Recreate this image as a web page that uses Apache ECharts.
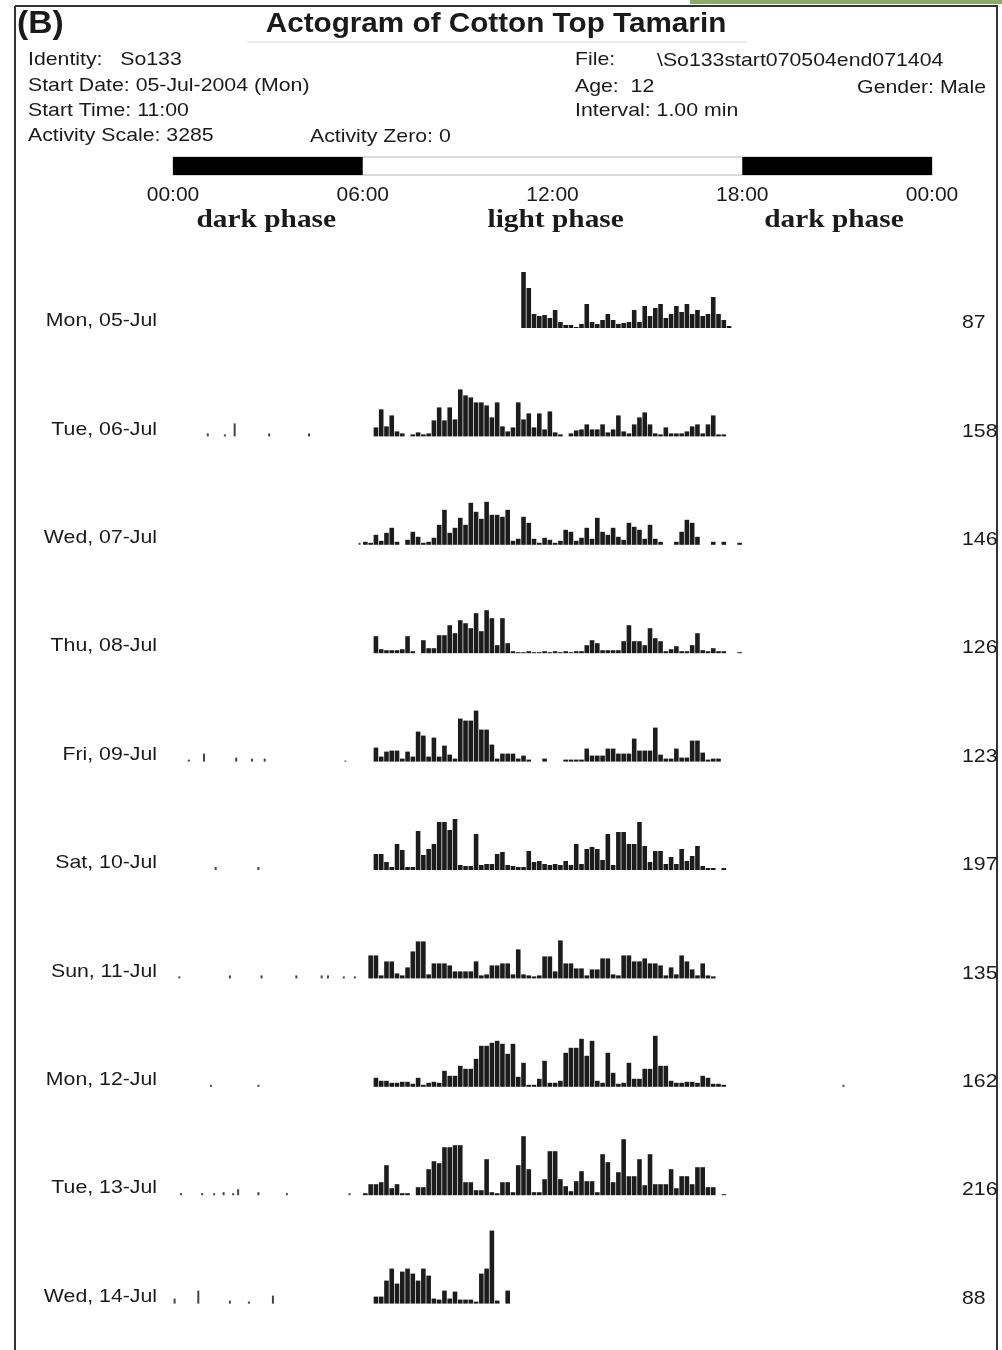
<!DOCTYPE html>
<html><head><meta charset="utf-8">
<script src="https://cdn.jsdelivr.net/npm/echarts@6/dist/echarts.min.js"></script>
<style>html,body{margin:0;padding:0;background:#fff}#c{width:1002px;height:1350px}</style>
</head><body><div id="c"></div>
<script>
// ---- data ----
const days = ['Mon, 05-Jul','Tue, 06-Jul','Wed, 07-Jul','Thu, 08-Jul','Fri, 09-Jul','Sat, 10-Jul','Sun, 11-Jul','Mon, 12-Jul','Tue, 13-Jul','Wed, 14-Jul'];
const totals = [87,158,146,126,123,197,135,162,216,88];
// hour at which each day's 10-minute activity bins begin
const dayStart = [11,6,6,6,6,6,6,6,6,6];
// activity per 10-minute bin (relative counts)
const act0 = [56,40,14,12,13,10,18,6,3,3,1,4,24,6,4,8,14,8,4,5,6,18,6,22,12,20,24,10,14,22,16,24,14,18,12,14,31,14,8,2];
const act1 = [0,0,9,27,10,21,5,3,0,2,4,2,3,16,29,16,29,17,47,41,39,34,34,31,19,34,10,5,9,34,17,23,9,23,7,25,4,2,0,3,6,7,12,7,7,12,4,7,21,5,3,12,19,24,12,3,2,9,3,3,3,5,10,12,3,12,21,2,2];
const act2 = [3,2,10,4,12,17,3,0,5,13,8,2,3,7,20,35,12,17,27,20,42,33,26,43,30,30,28,35,4,6,28,22,6,2,7,5,2,4,15,13,4,7,17,6,27,13,10,17,8,5,22,18,15,6,20,6,3,0,0,3,13,25,22,8,0,0,3,0,3,0,0,2];
const act3 = [0,0,17,4,3,3,3,4,17,2,0,13,5,5,18,18,28,20,33,30,25,40,22,43,35,8,35,10,2,1,1,2,1,1,2,1,2,1,2,1,2,2,8,13,10,3,3,3,3,12,28,12,12,8,25,15,12,2,4,7,2,2,8,20,3,2,5,2,2,0,0,1];
const act4 = [0,0,14,5,10,11,11,3,10,5,30,26,5,24,5,16,7,3,43,41,41,51,32,32,17,3,8,8,8,3,6,2,0,0,3,0,0,0,2,2,2,2,13,6,6,6,13,13,8,8,8,23,11,11,11,34,7,3,3,13,4,4,21,21,9,2,3,3];
const act5 = [0,0,16,16,8,3,26,20,3,3,39,15,21,26,48,48,40,51,5,4,4,36,5,6,6,16,18,5,4,3,3,19,8,9,6,5,6,5,9,5,26,6,21,23,21,10,36,5,38,38,26,26,48,24,8,19,19,6,13,6,21,9,14,24,4,2,2,0,2];
const act6 = [0,23,23,3,17,17,5,3,11,27,37,37,4,15,15,15,13,7,7,7,7,17,3,4,13,13,15,15,4,29,4,3,2,3,22,22,7,38,15,15,10,10,3,9,9,20,20,4,3,23,23,17,17,20,15,15,13,3,11,4,23,17,9,3,15,3,2];
const act7 = [0,0,9,6,6,4,4,5,5,3,9,2,4,5,4,16,11,11,21,18,18,28,41,41,44,46,43,33,43,10,24,2,2,8,26,4,4,6,34,39,39,48,31,46,6,4,34,14,3,4,24,8,8,18,18,51,21,21,6,4,4,5,5,4,11,9,3,3,2];
const act8 = [2,11,11,13,30,7,11,2,2,0,8,8,26,34,32,48,48,50,50,13,13,5,5,36,3,2,13,13,3,30,59,26,3,3,16,44,44,16,9,4,14,24,14,14,3,41,33,13,23,56,19,19,36,10,41,11,11,11,26,7,19,19,11,28,28,8,8,0,1];
const act9 = [0,0,7,7,23,35,20,32,35,30,23,35,28,5,4,13,5,12,4,4,4,2,30,35,73,3,0,13,0];
// sparse dark-phase blips: [hour, count]
const night0 = [];
const night1 = [[1.10,3],[1.64,2],[1.95,13],[3.04,3],[4.30,3]];
const night2 = [[5.9,2]];
const night3 = [];
const night4 = [[0.5,2],[0.98,8],[2.0,4],[2.5,3],[2.9,3],[5.45,1]];
const night5 = [[1.35,3],[2.7,3]];
const night6 = [[0.2,2],[1.8,3],[2.8,3],[3.9,3],[4.7,3],[4.9,3],[5.4,2],[5.75,2]];
const night7 = [[1.2,2],[2.7,2],[21.2,2]];
const night8 = [[0.25,2],[0.92,2],[1.3,2],[1.6,3],[1.9,2],[2.06,6],[2.7,3],[3.6,2],[5.58,2]];
const night9 = [[0.05,5],[0.8,13],[1.8,3],[2.4,2],[3.16,8]];
const tickHours = [0,6,12,18,24];
const darkBlocks = [[0,6],[18,24]];
const phaseNames = ['dark phase','light phase','dark phase'];
const phaseHours = [2.95,12.1,20.9];

const acts = [act0,act1,act2,act3,act4,act5,act6,act7,act8,act9];
const nights = [night0,night1,night2,night3,night4,night5,night6,night7,night8,night9];

// ---- layout ----
const PL = 173, PW = 759, B0 = 328, STEP = 108.4, H = 100;
const SANS = '"Liberation Sans", Arial, sans-serif';
const SERIF = '"Liberation Serif", "Times New Roman", serif';
const INK = '#1a1a1a';
const hx = h => PL + h * PW / 24;

const grid = [], xAxis = [], yAxis = [], series = [];
days.forEach((d, i) => {
  grid.push({left: PL, width: PW, top: B0 + i * STEP - H, height: H});
  xAxis.push({gridIndex: i, type: 'value', min: 0, max: 24, show: false});
  xAxis.push({gridIndex: i, type: 'value', min: 0, max: 24, show: false});
  yAxis.push({gridIndex: i, type: 'value', min: 0, max: H, show: false});
  series.push({type: 'bar', xAxisIndex: 2 * i, yAxisIndex: i, barWidth: 4.6, silent: true,
    itemStyle: {color: '#1c1c1c'},
    data: acts[i].map((v, k) => [dayStart[i] + (k + 0.5) / 6, v])});
  series.push({type: 'bar', xAxisIndex: 2 * i + 1, yAxisIndex: i, barWidth: 2, silent: true,
    itemStyle: {color: '#444'}, data: nights[i]});
});
// header light/dark bar
grid.push({left: PL, width: PW, top: 157, height: 18, show: true, borderColor: '#b5b5b5', borderWidth: 1, backgroundColor: 'transparent'});
xAxis.push({gridIndex: 10, type: 'value', min: 0, max: 24, interval: 6,
  axisLine: {show: false}, axisTick: {show: false}, splitLine: {show: false},
  axisLabel: {margin: 10, fontSize: 21, fontFamily: SANS, color: INK, showMinLabel: true, showMaxLabel: true,
    formatter: v => String(v % 24).padStart(2, '0') + ':00'}});
yAxis.push({gridIndex: 10, type: 'value', min: 0, max: 1, show: false});
series.push({type: 'custom', xAxisIndex: 20, yAxisIndex: 10, silent: true, data: darkBlocks,
  encode: {x: [0, 1]},
  renderItem: (p, api) => {
    const a = api.coord([api.value(0), 1]);
    const b = api.coord([api.value(1), 0]);
    return {type: 'rect', shape: {x: a[0], y: a[1], width: b[0] - a[0], height: b[1] - a[1]}, style: {fill: '#000'}};
  }});

const txt = (text, x, y, font, align, sx) => ({type: 'text', silent: true, x, y, scaleX: sx || 1,
  style: {text, x: 0, y: 0, font, fill: INK, align: align || 'left', verticalAlign: 'middle'}});
const F = '19px ' + SANS, SX = 1.12;

const graphic = [
  {type: 'rect', shape: {x: 690, y: 0, width: 312, height: 4}, style: {fill: '#8aa96a'}},
  {type: 'line', shape: {x1: 15, y1: 6, x2: 998, y2: 6}, style: {stroke: '#333', lineWidth: 2}},
  {type: 'line', shape: {x1: 15, y1: 6, x2: 15, y2: 1350}, style: {stroke: '#333', lineWidth: 2}},
  {type: 'line', shape: {x1: 997, y1: 6, x2: 997, y2: 1350}, style: {stroke: '#333', lineWidth: 2}},
  {type: 'line', shape: {x1: 247, y1: 42, x2: 747, y2: 42}, style: {stroke: '#d8d8d8', lineWidth: 1}},
  txt('(B)', 17, 24, 'bold 32px ' + SANS, 'left', 1.05),
  txt('Actogram of Cotton Top Tamarin', 496, 24, 'bold 28px ' + SANS, 'center', 1.06),
  txt('Identity:   So133', 28, 60, F, 'left', SX),
  txt('Start Date: 05-Jul-2004 (Mon)', 28, 86, F, 'left', SX),
  txt('Start Time: 11:00', 28, 111, F, 'left', SX),
  txt('Activity Scale: 3285', 28, 136, F, 'left', SX),
  txt('Activity Zero: 0', 310, 137, F, 'left', SX),
  txt('File:', 575, 60, F, 'left', SX),
  txt('\\So133start070504end071404', 657, 61, F, 'left', SX),
  txt('Age:  12', 575, 87, F, 'left', SX),
  txt('Gender: Male', 986, 88, F, 'right', SX),
  txt('Interval: 1.00 min', 575, 111, F, 'left', SX),
];
phaseNames.forEach((n, i) => graphic.push(txt(n, hx(phaseHours[i]), 220, 'bold 26px ' + SERIF, 'center', 1.13)));
days.forEach((d, i) => {
  const b = B0 + i * STEP;
  graphic.push(txt(d, 157, b - 7, F, 'right', SX));
  graphic.push(txt(String(totals[i]), 962, b - 5, F, 'left', SX));
});

const chart = echarts.init(document.getElementById('c'), null, {renderer: 'canvas'});
chart.setOption({animation: false, backgroundColor: '#fff', grid, xAxis, yAxis, series, graphic});
</script></body></html>
